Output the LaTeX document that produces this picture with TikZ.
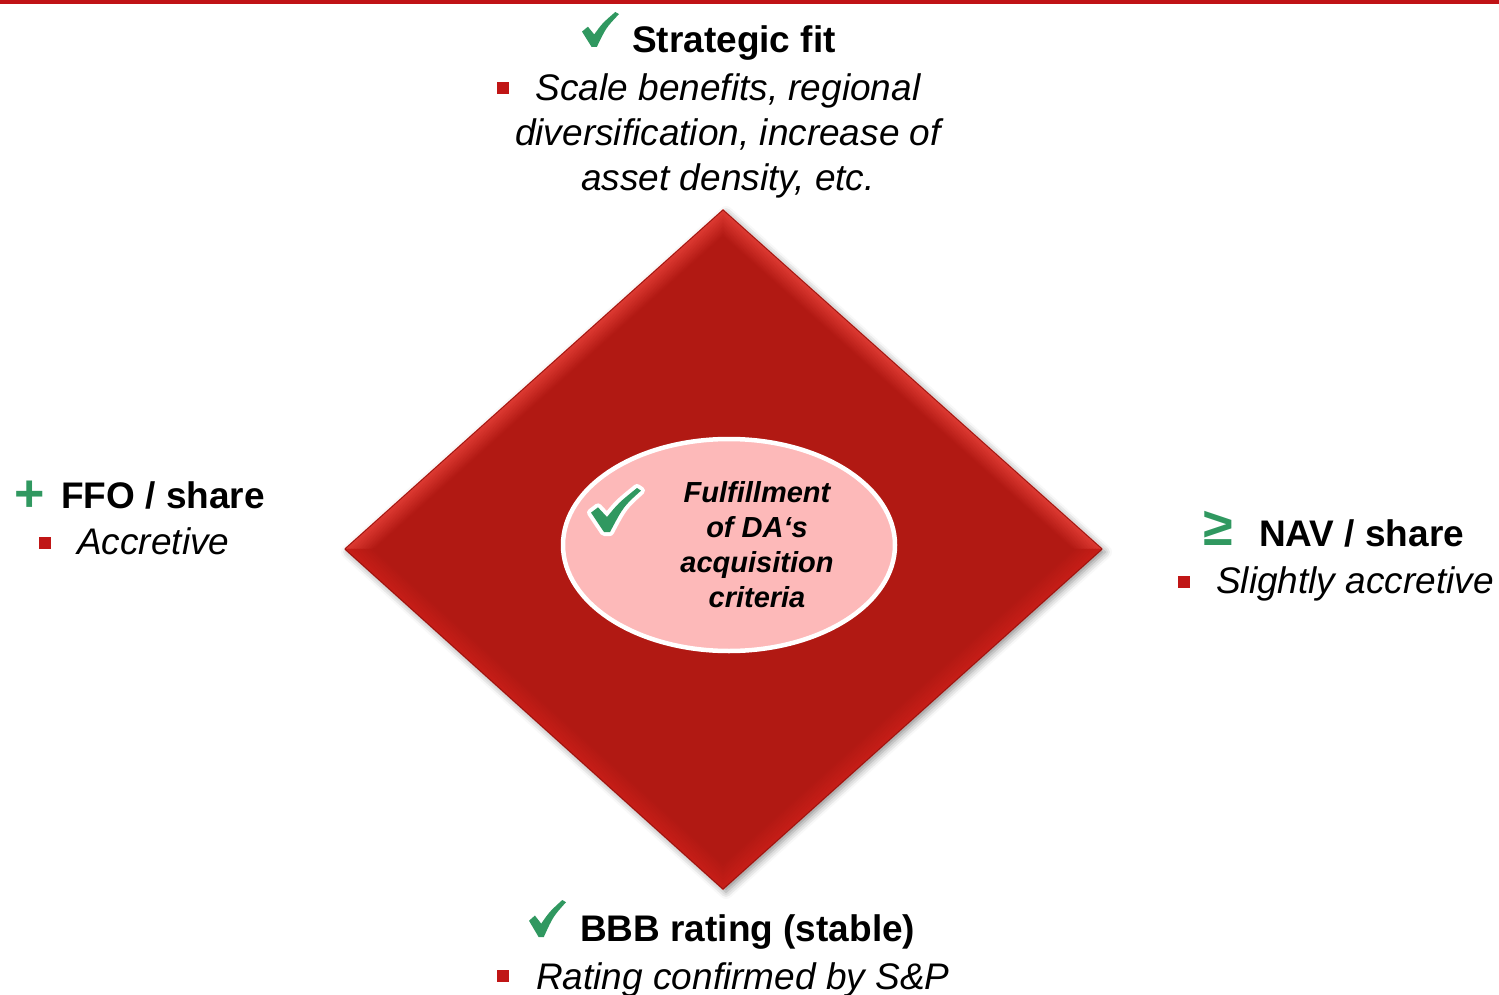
\documentclass[tikz,border=0pt]{standalone}
\usepackage{fontspec}
\setmainfont{Liberation Sans}
\usetikzlibrary{shadows.blur}

\definecolor{topred}{RGB}{192,18,22}
\definecolor{dmdred}{RGB}{177,25,19}
\definecolor{bevlight}{RGB}{224,60,52}
\definecolor{bevlow}{RGB}{200,30,24}
\definecolor{ovalpink}{RGB}{253,185,185}
\definecolor{tickgreen}{RGB}{48,152,96}
\definecolor{bulletred}{RGB}{192,22,22}

\tikzset{
  head/.style={font=\fontsize{37}{45}\selectfont\bfseries, inner sep=0pt},
  body/.style={font=\fontsize{37}{45}\selectfont\itshape, inner sep=0pt},
  crit/.style={font=\fontsize{29}{35}\selectfont\bfseries\itshape, inner sep=0pt, align=center},
  sign/.style={text=tickgreen, inner sep=0pt},
  bullet/.style={fill=bulletred, minimum size=12pt, inner sep=0pt},
  checkmark/.pic={\fill[tickgreen] (0,0.56) -- (0.16,0.42) -- (0.33,0.64) .. controls (0.55,0.32) .. (0.9,0) -- (1,0.06) .. controls (0.65,0.45) .. (0.40,1) -- (0.26,1) -- cycle;},
  checkmarkw/.pic={\path[fill=tickgreen, preaction={draw=white, line width=8pt, line join=round}] (0,0.56) -- (0.14,0.44) -- (0.32,0.66) .. controls (0.55,0.34) .. (0.92,0) -- (1,0.06) .. controls (0.65,0.42) .. (0.38,1) -- (0.26,1) -- cycle;}
}

\begin{document}
\begin{tikzpicture}[x=1pt,y=-1pt]
  \useasboundingbox (0,0) rectangle (1499,995);
  \fill[topred] (0,0) rectangle (1499,4);

  % diamond
  \coordinate (T) at (723,210);
  \coordinate (L) at (345,549);
  \coordinate (R) at (1102,549);
  \coordinate (B) at (723,889);
  \fill[dmdred, blur shadow={shadow xshift=3pt, shadow yshift=-3pt, shadow blur radius=7pt, shadow opacity=45}] (L) -- (T) -- (R) -- (B) -- cycle;
  \foreach \k [evaluate=\k as \s using 1-\k*0.004, evaluate=\k as \p using 100-\k*5] in {0,...,20}{
    \draw[line width=1.4pt, draw=bevlight!\p!dmdred, scale around={\s:(723,549)}] (345,549) -- (723,210) -- (1102,549);
    \draw[line width=1.4pt, draw=bevlow!\p!dmdred, scale around={\s:(723,549)}] (345,549) -- (723,889) -- (1102,549);
  }
  \draw[dmdred!80!black, line width=0.6pt] (L) -- (T) -- (R) -- (B) -- cycle;

  % centre
  \draw[fill=ovalpink, draw=white, line width=4.5pt] (729,545) ellipse [x radius=166, y radius=106];
  \pic[xscale=50, yscale=44] at (591,488) {checkmarkw};
  \node[crit, anchor=base] (crit) at (757,607) {Fulfillment\\of DA‘s\\acquisition\\criteria};

  % top
  \pic[xscale=37, yscale=35] at (582,12) {checkmark};
  \node[head, anchor=base west] (fit) at (632,53) {Strategic fit};
  \node[bullet] (fitdot) at (503,88) {};
  \node[body, anchor=base, align=center] (fittxt) at (728,191) {Scale benefits, regional\\diversification, increase of\\asset density, etc.};

  % left
  \node[sign, font=\fontsize{52}{52}\selectfont\bfseries] (plus) at (29.5,496) {+};
  \node[head, anchor=base west] (ffo) at (61,508) {FFO / share};
  \node[bullet] (ffodot) at (44.5,543) {};
  \node[body, anchor=base west] (ffotxt) at (77,554) {Accretive};

  % right
  \node[sign, font=\fontsize{54}{54}\selectfont\bfseries] (geq) at (1218,528) {≥};
  \node[head, anchor=base west] (nav) at (1259,546) {NAV / share};
  \node[bullet] (navdot) at (1183.5,581.5) {};
  \node[body, anchor=base west] (navtxt) at (1216,593) {Slightly accretive};

  % bottom
  \pic[xscale=37, yscale=37] at (529,900) {checkmark};
  \node[head, anchor=base west] (bbb) at (580,941) {BBB rating (stable)};
  \node[bullet] (bbbdot) at (502.5,976) {};
  \node[body, anchor=base west] (bbbtxt) at (536,989) {Rating confirmed by S\&P};
\end{tikzpicture}
\end{document}
